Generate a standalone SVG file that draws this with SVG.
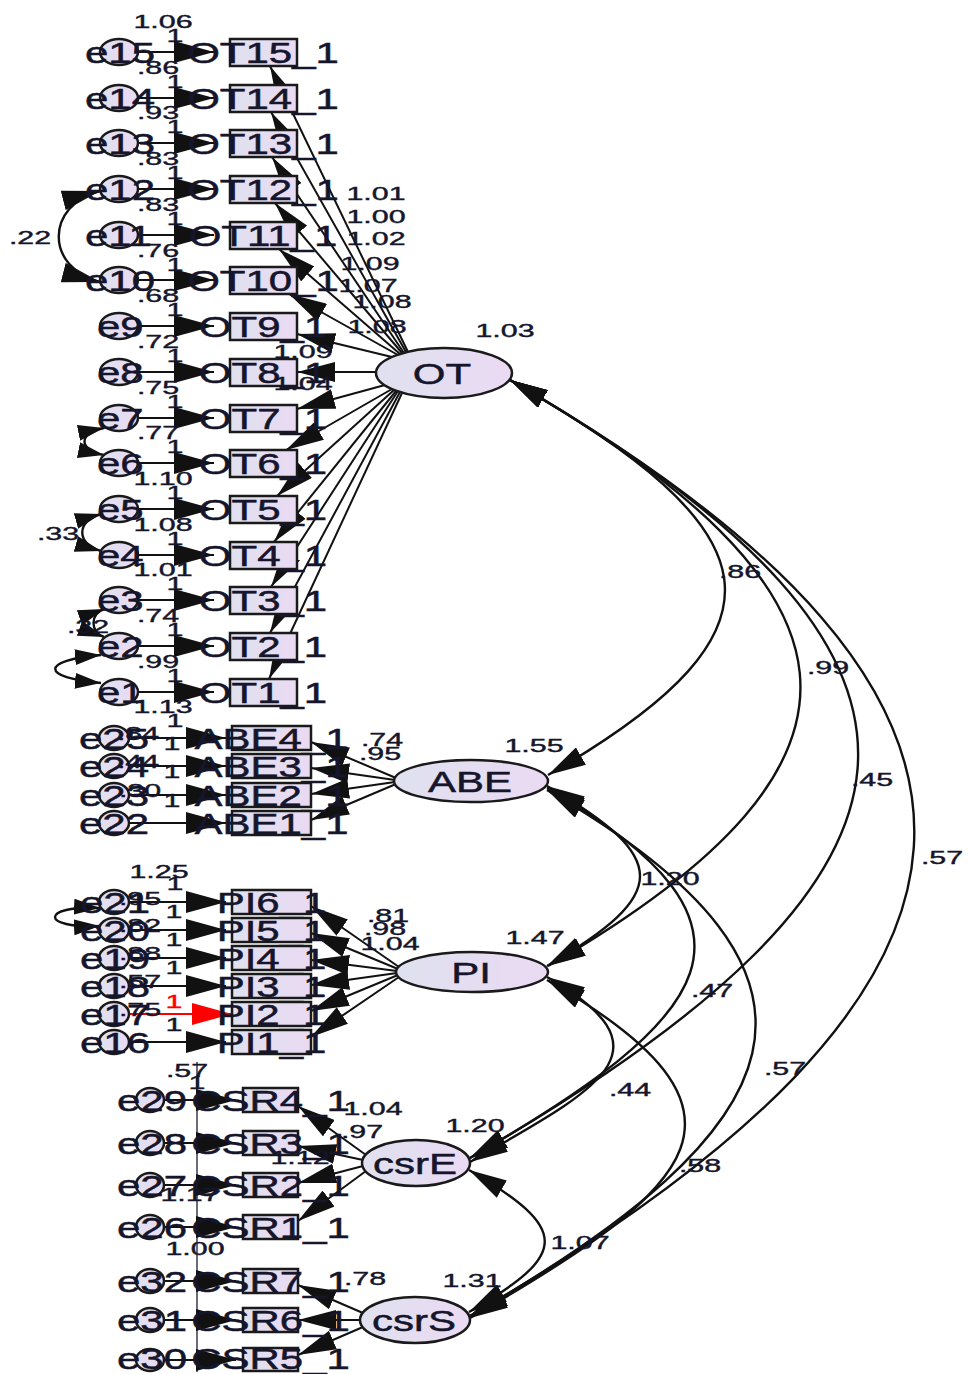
<svg xmlns="http://www.w3.org/2000/svg" width="969" height="1374" viewBox="0 0 969 1374">
<defs>
<linearGradient id="gb" x1="0" y1="0" x2="1" y2="0"><stop offset="0" stop-color="#dfe1ef"/><stop offset="1" stop-color="#eadaf3"/></linearGradient>
<marker id="ah" viewBox="0 0 38 20" refX="38" refY="10" markerWidth="38" markerHeight="20" markerUnits="userSpaceOnUse" orient="auto-start-reverse"><path d="M0,0L38,10L0,20z" fill="#111"/></marker>
<marker id="ahe" viewBox="0 0 40 22" refX="40" refY="11" markerWidth="40" markerHeight="22" markerUnits="userSpaceOnUse" orient="auto"><path d="M0,0L40,11L0,22z" fill="#111"/></marker>
<marker id="ahs" viewBox="0 0 26 16" refX="26" refY="8" markerWidth="26" markerHeight="16" markerUnits="userSpaceOnUse" orient="auto-start-reverse"><path d="M0,0L26,8L0,16z" fill="#111"/></marker>
<marker id="ahr" viewBox="0 0 40 22" refX="40" refY="11" markerWidth="40" markerHeight="22" markerUnits="userSpaceOnUse" orient="auto"><path d="M0,0L40,11L0,22z" fill="#f00"/></marker>
<style>
.b{font-family:"Liberation Sans",Arial,sans-serif;font-size:30px;fill:#15152c;stroke:#15152c;stroke-width:0.5}
.s{font-family:"Liberation Sans",Arial,sans-serif;font-size:19px;fill:#15152c;stroke:#15152c;stroke-width:0.4}
.m{text-anchor:middle}
.bx{fill:url(#gb);stroke:#1a1a1a;stroke-width:2.5}
.el{fill:url(#gb);stroke:#1a1a1a;stroke-width:2.5}
.ea{fill:none;stroke:#111;stroke-width:2.2;marker-end:url(#ahe)}
.ln{fill:none;stroke:#111;stroke-width:2;marker-end:url(#ah)}
.cv{fill:none;stroke:#111;stroke-width:2.4;marker-start:url(#ah);marker-end:url(#ah)}
.cs{fill:none;stroke:#111;stroke-width:2.4;marker-start:url(#ahs);marker-end:url(#ahs)}
</style>
</defs>
<rect width="969" height="1374" fill="#fff"/>
<g id="connectors">
<line x1="197" y1="1062" x2="197" y2="1372" stroke="#3a3a55" stroke-width="1.5"/>
<path class="ea" d="M138 52H214"/><path class="ea" d="M138 98H214"/><path class="ea" d="M138 143H214"/><path class="ea" d="M138 189H214"/><path class="ea" d="M138 235H214"/><path class="ea" d="M138 280H214"/><path class="ea" d="M138 326H214"/><path class="ea" d="M138 372H214"/><path class="ea" d="M138 418H214"/><path class="ea" d="M138 463H214"/><path class="ea" d="M138 509H214"/><path class="ea" d="M138 555H214"/><path class="ea" d="M138 600H214"/><path class="ea" d="M138 646H214"/><path class="ea" d="M138 692H214"/>
<path class="ea" d="M129 738H226"/><path class="ea" d="M129 766H226"/><path class="ea" d="M129 795H226"/><path class="ea" d="M129 823H226"/>
<path class="ea" d="M129 902H226"/><path class="ea" d="M129 930H226"/><path class="ea" d="M129 958H226"/><path class="ea" d="M129 986H226"/>
<path d="M129 1014H232" fill="none" stroke="#f00" stroke-width="2.2" marker-end="url(#ahr)"/>
<path class="ea" d="M129 1042H226"/>
<path class="ea" d="M164 1100H236"/><path class="ea" d="M164 1143H236"/><path class="ea" d="M164 1185H236"/><path class="ea" d="M164 1227H236"/>
<path class="ea" d="M164 1281H236"/><path class="ea" d="M164 1320H236"/><path class="ea" d="M164 1360H236"/>
<path class="ln" d="M408 352L270 66"/><path class="ln" d="M406 352L271 112"/><path class="ln" d="M404 353L272 157"/><path class="ln" d="M402 353L275 203"/><path class="ln" d="M400 354L279 249"/><path class="ln" d="M398 355L289 294"/><path class="ln" d="M392 357L297 334"/><path class="ln" d="M376 372L297 372"/><path class="ln" d="M385 385L297 409"/><path class="ln" d="M392 389L286 450"/><path class="ln" d="M394 390L277 496"/><path class="ln" d="M396 391L274 542"/><path class="ln" d="M398 391L271 587"/><path class="ln" d="M400 392L270 633"/><path class="ln" d="M402 393L269 679"/>
<path class="ln" d="M396 778L311 742"/><path class="ln" d="M395 780L311 768"/><path class="ln" d="M395 782L311 794"/><path class="ln" d="M396 784L311 820"/>
<path class="ln" d="M399 967L311 906"/><path class="ln" d="M398 969L311 933"/><path class="ln" d="M397 971L311 960"/><path class="ln" d="M397 973L311 985"/><path class="ln" d="M398 975L311 1011"/><path class="ln" d="M399 977L311 1037"/>
<path class="ln" d="M366 1155L298 1106"/><path class="ln" d="M363 1160L298 1146"/><path class="ln" d="M363 1166L298 1183"/><path class="ln" d="M366 1171L298 1221"/>
<path class="ln" d="M363 1313L298 1285"/><path class="ln" d="M360 1320L298 1320"/><path class="ln" d="M363 1327L298 1355"/>
<path class="cv" d="M510 380C771 529 807 626 548 775"/>
<path class="cv" d="M510 380C872 588 908 758 548 966"/>
<path class="cv" d="M510 380C1001 663 959 876 470 1158"/>
<path class="cv" d="M510 380C1076 706 1034 990 470 1316"/>
<path class="cv" d="M547 786C671 858 671 894 547 966"/>
<path class="cv" d="M547 788C789 928 712 1018 470 1158"/>
<path class="cv" d="M547 790C872 978 795 1129 470 1316"/>
<path class="cv" d="M547 977C676 1051 599 1088 470 1162"/>
<path class="cv" d="M547 980C776 1112 699 1186 470 1318"/>
<path class="cv" d="M469 1170C570 1229 570 1254 469 1312"/>
<path class="cv" d="M100 191C45 205 45 268 100 282"/>
<path class="cs" d="M101 514C76 521 76 544 101 551"/>
<path class="cs" d="M104 609C90 614 90 632 104 637"/>
<path class="cs" d="M101 655C40 660 40 678 101 683"/>
<path class="cs" d="M104 428C78 433 78 450 104 455"/>
<path class="cs" d="M100 908C40 905 40 929 100 926"/>
</g>
<g id="OT15"><rect class="bx" x="230" y="39" width="67" height="27"/><text class="b m" transform="translate(263 63) scale(1.4 1)">OT15_1</text></g>
<g id="OT14"><rect class="bx" x="230" y="85" width="67" height="27"/><text class="b m" transform="translate(263 109) scale(1.4 1)">OT14_1</text></g>
<g id="OT13"><rect class="bx" x="230" y="130" width="67" height="27"/><text class="b m" transform="translate(263 154) scale(1.4 1)">OT13_1</text></g>
<g id="OT12"><rect class="bx" x="230" y="176" width="67" height="27"/><text class="b m" transform="translate(263 200) scale(1.4 1)">OT12_1</text></g>
<g id="OT11"><rect class="bx" x="230" y="222" width="67" height="27"/><text class="b m" transform="translate(263 246) scale(1.4 1)">OT11_1</text></g>
<g id="OT10"><rect class="bx" x="230" y="267" width="67" height="27"/><text class="b m" transform="translate(263 291) scale(1.4 1)">OT10_1</text></g>
<g id="OT9"><rect class="bx" x="230" y="313" width="67" height="27"/><text class="b m" transform="translate(263 337) scale(1.4 1)">OT9_1</text></g>
<g id="OT8"><rect class="bx" x="230" y="359" width="67" height="27"/><text class="b m" transform="translate(263 383) scale(1.4 1)">OT8_1</text></g>
<g id="OT7"><rect class="bx" x="230" y="405" width="67" height="27"/><text class="b m" transform="translate(263 429) scale(1.4 1)">OT7_1</text></g>
<g id="OT6"><rect class="bx" x="230" y="450" width="67" height="27"/><text class="b m" transform="translate(263 474) scale(1.4 1)">OT6_1</text></g>
<g id="OT5"><rect class="bx" x="230" y="496" width="67" height="27"/><text class="b m" transform="translate(263 520) scale(1.4 1)">OT5_1</text></g>
<g id="OT4"><rect class="bx" x="230" y="542" width="67" height="27"/><text class="b m" transform="translate(263 566) scale(1.4 1)">OT4_1</text></g>
<g id="OT3"><rect class="bx" x="230" y="587" width="67" height="27"/><text class="b m" transform="translate(263 611) scale(1.4 1)">OT3_1</text></g>
<g id="OT2"><rect class="bx" x="230" y="633" width="67" height="27"/><text class="b m" transform="translate(263 657) scale(1.4 1)">OT2_1</text></g>
<g id="OT1"><rect class="bx" x="230" y="679" width="67" height="27"/><text class="b m" transform="translate(263 703) scale(1.4 1)">OT1_1</text></g>
<g id="e15"><ellipse class="el" cx="119" cy="52" rx="19" ry="13"/><text class="b" transform="translate(85 63) scale(1.4 1)">e15</text></g>
<g id="e14"><ellipse class="el" cx="119" cy="98" rx="19" ry="13"/><text class="b" transform="translate(85 109) scale(1.4 1)">e14</text></g>
<g id="e13"><ellipse class="el" cx="119" cy="143" rx="19" ry="13"/><text class="b" transform="translate(85 154) scale(1.4 1)">e13</text></g>
<g id="e12"><ellipse class="el" cx="119" cy="189" rx="19" ry="13"/><text class="b" transform="translate(85 200) scale(1.4 1)">e12</text></g>
<g id="e11"><ellipse class="el" cx="119" cy="235" rx="19" ry="13"/><text class="b" transform="translate(85 246) scale(1.4 1)">e11</text></g>
<g id="e10"><ellipse class="el" cx="119" cy="280" rx="19" ry="13"/><text class="b" transform="translate(85 291) scale(1.4 1)">e10</text></g>
<g id="e9"><ellipse class="el" cx="119" cy="326" rx="19" ry="13"/><text class="b" transform="translate(97 337) scale(1.4 1)">e9</text></g>
<g id="e8"><ellipse class="el" cx="119" cy="372" rx="19" ry="13"/><text class="b" transform="translate(97 383) scale(1.4 1)">e8</text></g>
<g id="e7"><ellipse class="el" cx="119" cy="418" rx="19" ry="13"/><text class="b" transform="translate(97 429) scale(1.4 1)">e7</text></g>
<g id="e6"><ellipse class="el" cx="119" cy="463" rx="19" ry="13"/><text class="b" transform="translate(97 474) scale(1.4 1)">e6</text></g>
<g id="e5"><ellipse class="el" cx="119" cy="509" rx="19" ry="13"/><text class="b" transform="translate(97 520) scale(1.4 1)">e5</text></g>
<g id="e4"><ellipse class="el" cx="119" cy="555" rx="19" ry="13"/><text class="b" transform="translate(97 566) scale(1.4 1)">e4</text></g>
<g id="e3"><ellipse class="el" cx="119" cy="600" rx="19" ry="13"/><text class="b" transform="translate(97 611) scale(1.4 1)">e3</text></g>
<g id="e2"><ellipse class="el" cx="119" cy="646" rx="19" ry="13"/><text class="b" transform="translate(97 657) scale(1.4 1)">e2</text></g>
<g id="e1"><ellipse class="el" cx="119" cy="692" rx="19" ry="13"/><text class="b" transform="translate(97 703) scale(1.4 1)">e1</text></g>
<g id="ABE4"><rect class="bx" x="232" y="726" width="79" height="24"/><text class="b m" transform="translate(271.5 749) scale(1.4 1)">ABE4_1</text></g>
<g id="ABE3"><rect class="bx" x="232" y="754" width="79" height="24"/><text class="b m" transform="translate(271.5 777) scale(1.4 1)">ABE3_1</text></g>
<g id="ABE2"><rect class="bx" x="232" y="783" width="79" height="24"/><text class="b m" transform="translate(271.5 806) scale(1.4 1)">ABE2_1</text></g>
<g id="ABE1"><rect class="bx" x="232" y="811" width="79" height="24"/><text class="b m" transform="translate(271.5 834) scale(1.4 1)">ABE1_1</text></g>
<g id="e25"><ellipse class="el" cx="114" cy="738" rx="15" ry="12"/><text class="b" transform="translate(79 749) scale(1.4 1)">e25</text></g>
<g id="e24"><ellipse class="el" cx="114" cy="766" rx="15" ry="12"/><text class="b" transform="translate(79 777) scale(1.4 1)">e24</text></g>
<g id="e23"><ellipse class="el" cx="114" cy="795" rx="15" ry="12"/><text class="b" transform="translate(79 806) scale(1.4 1)">e23</text></g>
<g id="e22"><ellipse class="el" cx="114" cy="823" rx="15" ry="12"/><text class="b" transform="translate(79 834) scale(1.4 1)">e22</text></g>
<g id="PI6"><rect class="bx" x="232" y="890" width="79" height="24"/><text class="b m" transform="translate(271.5 913) scale(1.4 1)">PI6_1</text></g>
<g id="PI5"><rect class="bx" x="232" y="918" width="79" height="24"/><text class="b m" transform="translate(271.5 941) scale(1.4 1)">PI5_1</text></g>
<g id="PI4"><rect class="bx" x="232" y="946" width="79" height="24"/><text class="b m" transform="translate(271.5 969) scale(1.4 1)">PI4_1</text></g>
<g id="PI3"><rect class="bx" x="232" y="974" width="79" height="24"/><text class="b m" transform="translate(271.5 997) scale(1.4 1)">PI3_1</text></g>
<g id="PI2"><rect class="bx" x="232" y="1002" width="79" height="24"/><text class="b m" transform="translate(271.5 1025) scale(1.4 1)">PI2_1</text></g>
<g id="PI1"><rect class="bx" x="232" y="1030" width="79" height="24"/><text class="b m" transform="translate(271.5 1053) scale(1.4 1)">PI1_1</text></g>
<g id="e21"><ellipse class="el" cx="114" cy="902" rx="15" ry="12"/><text class="b" transform="translate(80 913) scale(1.4 1)">e21</text></g>
<g id="e20"><ellipse class="el" cx="114" cy="930" rx="15" ry="12"/><text class="b" transform="translate(80 941) scale(1.4 1)">e20</text></g>
<g id="e19"><ellipse class="el" cx="114" cy="958" rx="15" ry="12"/><text class="b" transform="translate(80 969) scale(1.4 1)">e19</text></g>
<g id="e18"><ellipse class="el" cx="114" cy="986" rx="15" ry="12"/><text class="b" transform="translate(80 997) scale(1.4 1)">e18</text></g>
<g id="e17"><ellipse class="el" cx="114" cy="1014" rx="15" ry="12"/><text class="b" transform="translate(80 1025) scale(1.4 1)">e17</text></g>
<g id="e16"><ellipse class="el" cx="114" cy="1042" rx="15" ry="12"/><text class="b" transform="translate(80 1053) scale(1.4 1)">e16</text></g>
<g id="CSR4"><rect class="bx" x="243" y="1088" width="55" height="24"/><text class="b m" transform="translate(270.5 1111) scale(1.4 1)">CSR4_1</text></g>
<g id="CSR3"><rect class="bx" x="243" y="1131" width="55" height="24"/><text class="b m" transform="translate(270.5 1154) scale(1.4 1)">CSR3_1</text></g>
<g id="CSR2"><rect class="bx" x="243" y="1173" width="55" height="24"/><text class="b m" transform="translate(270.5 1196) scale(1.4 1)">CSR2_1</text></g>
<g id="CSR1"><rect class="bx" x="243" y="1215" width="55" height="24"/><text class="b m" transform="translate(270.5 1238) scale(1.4 1)">CSR1_1</text></g>
<g id="CSR7"><rect class="bx" x="243" y="1269" width="55" height="24"/><text class="b m" transform="translate(270.5 1292) scale(1.4 1)">CSR7_1</text></g>
<g id="CSR6"><rect class="bx" x="243" y="1308" width="55" height="24"/><text class="b m" transform="translate(270.5 1331) scale(1.4 1)">CSR6_1</text></g>
<g id="CSR5"><rect class="bx" x="243" y="1348" width="55" height="23"/><text class="b m" transform="translate(270.5 1369) scale(1.4 1)">CSR5_1</text></g>
<g id="e29"><ellipse class="el" cx="150" cy="1100" rx="14" ry="12"/><text class="b" transform="translate(117 1111) scale(1.4 1)">e29</text></g>
<g id="e28"><ellipse class="el" cx="150" cy="1143" rx="14" ry="12"/><text class="b" transform="translate(117 1154) scale(1.4 1)">e28</text></g>
<g id="e27"><ellipse class="el" cx="150" cy="1185" rx="14" ry="12"/><text class="b" transform="translate(117 1196) scale(1.4 1)">e27</text></g>
<g id="e26"><ellipse class="el" cx="150" cy="1227" rx="14" ry="12"/><text class="b" transform="translate(117 1238) scale(1.4 1)">e26</text></g>
<g id="e32"><ellipse class="el" cx="150" cy="1281" rx="14" ry="12"/><text class="b" transform="translate(117 1292) scale(1.4 1)">e32</text></g>
<g id="e31"><ellipse class="el" cx="150" cy="1320" rx="14" ry="12"/><text class="b" transform="translate(117 1331) scale(1.4 1)">e31</text></g>
<g id="e30"><ellipse class="el" cx="150" cy="1360" rx="14" ry="11"/><text class="b" transform="translate(117 1369) scale(1.4 1)">e30</text></g>
<g id="OT"><ellipse class="el" cx="444" cy="373" rx="68" ry="25"/><text class="b m" transform="translate(442 384) scale(1.4 1)">OT</text></g>
<g id="ABE"><ellipse class="el" cx="471" cy="781" rx="77" ry="21"/><text class="b m" transform="translate(470 792) scale(1.4 1)">ABE</text></g>
<g id="PI"><ellipse class="el" cx="472" cy="972" rx="76" ry="20"/><text class="b m" transform="translate(471 983) scale(1.4 1)">PI</text></g>
<g id="csrE"><ellipse class="el" cx="416" cy="1163" rx="54" ry="23"/><text class="b m" transform="translate(415 1174) scale(1.4 1)">csrE</text></g>
<g id="csrS"><ellipse class="el" cx="415" cy="1320" rx="55" ry="23"/><text class="b m" transform="translate(414 1331) scale(1.4 1)">csrS</text></g>
<g id="labels">
<text class="s m" transform="translate(163 28) scale(1.6 1)">1.06</text>
<text class="s m" transform="translate(158 74) scale(1.6 1)">.86</text>
<text class="s m" transform="translate(158 119) scale(1.6 1)">.93</text>
<text class="s m" transform="translate(158 165) scale(1.6 1)">.83</text>
<text class="s m" transform="translate(158 211) scale(1.6 1)">.83</text>
<text class="s m" transform="translate(158 257) scale(1.6 1)">.76</text>
<text class="s m" transform="translate(158 302) scale(1.6 1)">.68</text>
<text class="s m" transform="translate(158 348) scale(1.6 1)">.72</text>
<text class="s m" transform="translate(158 394) scale(1.6 1)">.75</text>
<text class="s m" transform="translate(158 439) scale(1.6 1)">.77</text>
<text class="s m" transform="translate(163 485) scale(1.6 1)">1.10</text>
<text class="s m" transform="translate(163 531) scale(1.6 1)">1.08</text>
<text class="s m" transform="translate(163 576) scale(1.6 1)">1.01</text>
<text class="s m" transform="translate(158 622) scale(1.6 1)">.74</text>
<text class="s m" transform="translate(158 668) scale(1.6 1)">.99</text>
<text class="s m" transform="translate(163 713) scale(1.6 1)">1.13</text>
<text class="s m" transform="translate(175 42) scale(1.6 1)">1</text>
<text class="s m" transform="translate(175 88) scale(1.6 1)">1</text>
<text class="s m" transform="translate(175 133) scale(1.6 1)">1</text>
<text class="s m" transform="translate(175 179) scale(1.6 1)">1</text>
<text class="s m" transform="translate(175 225) scale(1.6 1)">1</text>
<text class="s m" transform="translate(175 271) scale(1.6 1)">1</text>
<text class="s m" transform="translate(175 316) scale(1.6 1)">1</text>
<text class="s m" transform="translate(175 362) scale(1.6 1)">1</text>
<text class="s m" transform="translate(175 408) scale(1.6 1)">1</text>
<text class="s m" transform="translate(175 453) scale(1.6 1)">1</text>
<text class="s m" transform="translate(175 499) scale(1.6 1)">1</text>
<text class="s m" transform="translate(175 545) scale(1.6 1)">1</text>
<text class="s m" transform="translate(175 590) scale(1.6 1)">1</text>
<text class="s m" transform="translate(175 636) scale(1.6 1)">1</text>
<text class="s m" transform="translate(175 682) scale(1.6 1)">1</text>
<text class="s m" transform="translate(175 727) scale(1.6 1)">1</text>
<text class="s m" transform="translate(376 200) scale(1.6 1)">1.01</text>
<text class="s m" transform="translate(376 223) scale(1.6 1)">1.00</text>
<text class="s m" transform="translate(376 245) scale(1.6 1)">1.02</text>
<text class="s m" transform="translate(370 270) scale(1.6 1)">1.09</text>
<text class="s m" transform="translate(368 292) scale(1.6 1)">1.07</text>
<text class="s m" transform="translate(382 308) scale(1.6 1)">1.08</text>
<text class="s m" transform="translate(377 333) scale(1.6 1)">1.08</text>
<text class="s m" transform="translate(303 358) scale(1.6 1)">1.09</text>
<text class="s m" transform="translate(303 390) scale(1.6 1)">1.04</text>
<text class="s m" transform="translate(30 244) scale(1.6 1)">.22</text>
<text class="s m" transform="translate(58 540) scale(1.6 1)">.33</text>
<text class="s m" transform="translate(88 633) scale(1.6 1)">.32</text>
<text class="s m" transform="translate(138 740) scale(1.6 1)">.84</text>
<text class="s m" transform="translate(172 750) scale(1.6 1)">1</text>
<text class="s m" transform="translate(138 768) scale(1.6 1)">.44</text>
<text class="s m" transform="translate(172 778) scale(1.6 1)">1</text>
<text class="s m" transform="translate(140 797) scale(1.6 1)">.30</text>
<text class="s m" transform="translate(172 807) scale(1.6 1)">1</text>
<text class="s m" transform="translate(382 746) scale(1.6 1)">.74</text>
<text class="s m" transform="translate(380 760) scale(1.6 1)">.95</text>
<text class="s m" transform="translate(159 878) scale(1.6 1)">1.25</text>
<text class="s m" transform="translate(175 890) scale(1.6 1)">1</text>
<text class="s m" transform="translate(140 905) scale(1.6 1)">.95</text>
<text class="s m" transform="translate(174 918) scale(1.6 1)">1</text>
<text class="s m" transform="translate(140 932) scale(1.6 1)">.82</text>
<text class="s m" transform="translate(174 946) scale(1.6 1)">1</text>
<text class="s m" transform="translate(140 960) scale(1.6 1)">.88</text>
<text class="s m" transform="translate(174 974) scale(1.6 1)">1</text>
<text class="s m" transform="translate(140 988) scale(1.6 1)">.57</text>
<text class="s m" transform="translate(174 1008) scale(1.6 1)" style="fill:#f00;stroke:#f00">1</text>
<text class="s m" transform="translate(140 1016) scale(1.6 1)">.75</text>
<text class="s m" transform="translate(174 1031) scale(1.6 1)">1</text>
<text class="s m" transform="translate(388 922) scale(1.6 1)">.81</text>
<text class="s m" transform="translate(385 935) scale(1.6 1)">.98</text>
<text class="s m" transform="translate(390 950) scale(1.6 1)">1.04</text>
<text class="s m" transform="translate(187 1077) scale(1.6 1)">.57</text>
<text class="s m" transform="translate(197 1089) scale(1.6 1)">1</text>
<text class="s m" transform="translate(373 1115) scale(1.6 1)">1.04</text>
<text class="s m" transform="translate(362 1138) scale(1.6 1)">.97</text>
<text class="s m" transform="translate(300 1164) scale(1.6 1)">1.12</text>
<text class="s m" transform="translate(190 1201) scale(1.6 1)">1.17</text>
<text class="s m" transform="translate(195 1255) scale(1.6 1)">1.00</text>
<text class="s m" transform="translate(365 1285) scale(1.6 1)">.78</text>
<text class="s m" transform="translate(505 337) scale(1.6 1)">1.03</text>
<text class="s m" transform="translate(534 752) scale(1.6 1)">1.55</text>
<text class="s m" transform="translate(535 944) scale(1.6 1)">1.47</text>
<text class="s m" transform="translate(475 1132) scale(1.6 1)">1.20</text>
<text class="s m" transform="translate(472 1287) scale(1.6 1)">1.31</text>
<text class="s m" transform="translate(740 578) scale(1.6 1)">.86</text>
<text class="s m" transform="translate(828 674) scale(1.6 1)">.99</text>
<text class="s m" transform="translate(872 786) scale(1.6 1)">.45</text>
<text class="s m" transform="translate(942 864) scale(1.6 1)">.57</text>
<text class="s m" transform="translate(670 885) scale(1.6 1)">1.20</text>
<text class="s m" transform="translate(712 997) scale(1.6 1)">.47</text>
<text class="s m" transform="translate(785 1075) scale(1.6 1)">.57</text>
<text class="s m" transform="translate(630 1096) scale(1.6 1)">.44</text>
<text class="s m" transform="translate(700 1172) scale(1.6 1)">.58</text>
<text class="s m" transform="translate(580 1249) scale(1.6 1)">1.07</text>
</g>
</svg>
